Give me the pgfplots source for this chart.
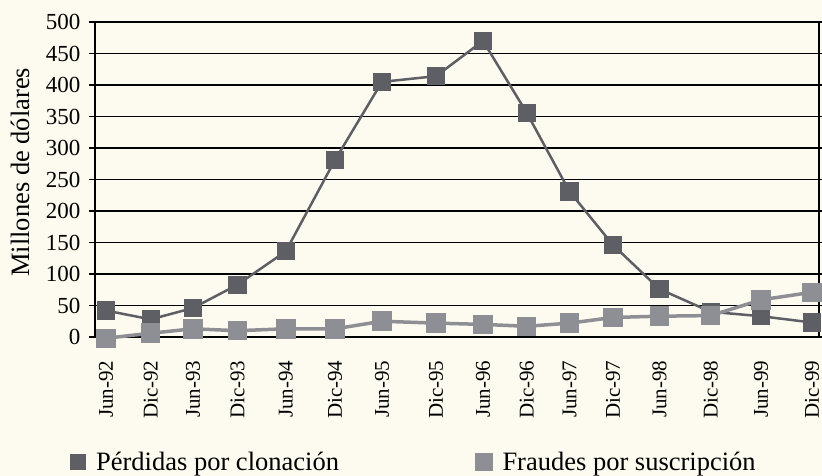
\documentclass[border=0pt]{standalone}
\usepackage{fontspec}
\setmainfont{Liberation Serif}
\usepackage{pgfplots}
\pgfplotsset{compat=1.18}
\usepackage{pgfplotstable}
\definecolor{bgc}{HTML}{FDFBEF}
\definecolor{darkc}{HTML}{5E5F65}
\definecolor{lightc}{HTML}{8E8F95}
\pgfplotstableread{
x      clon  susc
106    42    -2
150.7  28    6
193    46    13
237.5  83    10
285.8  136   13
335    281   13
382    405   25
436    414   22
483    470   20
526.7  356   17
569.5  231   22
613    146   31
659.5  76    33
710.7  40    34
761    33    59
812    23    71
}\datatable
\begin{document}
\begin{tikzpicture}
\useasboundingbox (0,0) rectangle (822pt,476pt);
\fill[bgc] (0,0) rectangle (822pt,476pt);
\begin{axis}[
  at={(95pt,139pt)}, anchor=south west,
  scale only axis, width=724pt, height=315pt,
  xmin=95, xmax=819, ymin=0, ymax=500,
  clip=false,
  axis background/.style={fill=bgc},
  axis line style={black, line width=1.5pt},
  ymajorgrids, major grid style={black, line width=1.5pt},
  ytick={0,50,...,500},
  xtick={106,150.7,193,237.5,285.8,335,382,436,483,526.7,569.5,613,659.5,710.7,761,812},
  xticklabels={Jun-92,Dic-92,Jun-93,Dic-93,Jun-94,Dic-94,Jun-95,Dic-95,Jun-96,Dic-96,Jun-97,Dic-97,Jun-98,Dic-98,Jun-99,Dic-99},
  tick align=outside, major tick length=6pt,
  tick style={black, line width=1.5pt},
  major x tick style={draw=none},
  /pgf/number format/assume math mode=true,
  yticklabel style={font=\fontsize{23}{27}\selectfont, xshift=-5pt},
  xticklabel style={font=\fontsize{21}{25}\selectfont, rotate=90, anchor=east},
  xticklabel shift=14pt,
  ylabel={Millones de dólares},
  ylabel style={font=\fontsize{26.5}{30}\selectfont, at={(axis description cs:-0.1036,0.523)}, anchor=center},
  legend columns=2,
  legend style={at={(axis description cs:-0.035,-0.397)}, anchor=west, draw=none, fill=none,
    inner sep=0pt, outer sep=0pt, font=\fontsize{26.5}{30}\selectfont,
    /tikz/every even column/.append style={column sep=134pt}},
  legend image code/.code={\fill[#1] (0pt,-7pt) rectangle (14pt,7pt); \path (22pt,0pt);},
]
\addplot[color=darkc, line width=2.5pt, mark=square*, mark size=7.8pt, mark options={solid, fill=darkc, draw=none}] table[x=x, y=clon] {\datatable};
\addlegendentry{Pérdidas por clonación}
\addplot[color=lightc, line width=3.5pt, mark=square*, mark size=8pt, mark options={solid, fill=lightc, draw=none}] table[x=x, y=susc] {\datatable};
\addlegendentry{Fraudes por suscripción}
\end{axis}
\end{tikzpicture}
\end{document}
